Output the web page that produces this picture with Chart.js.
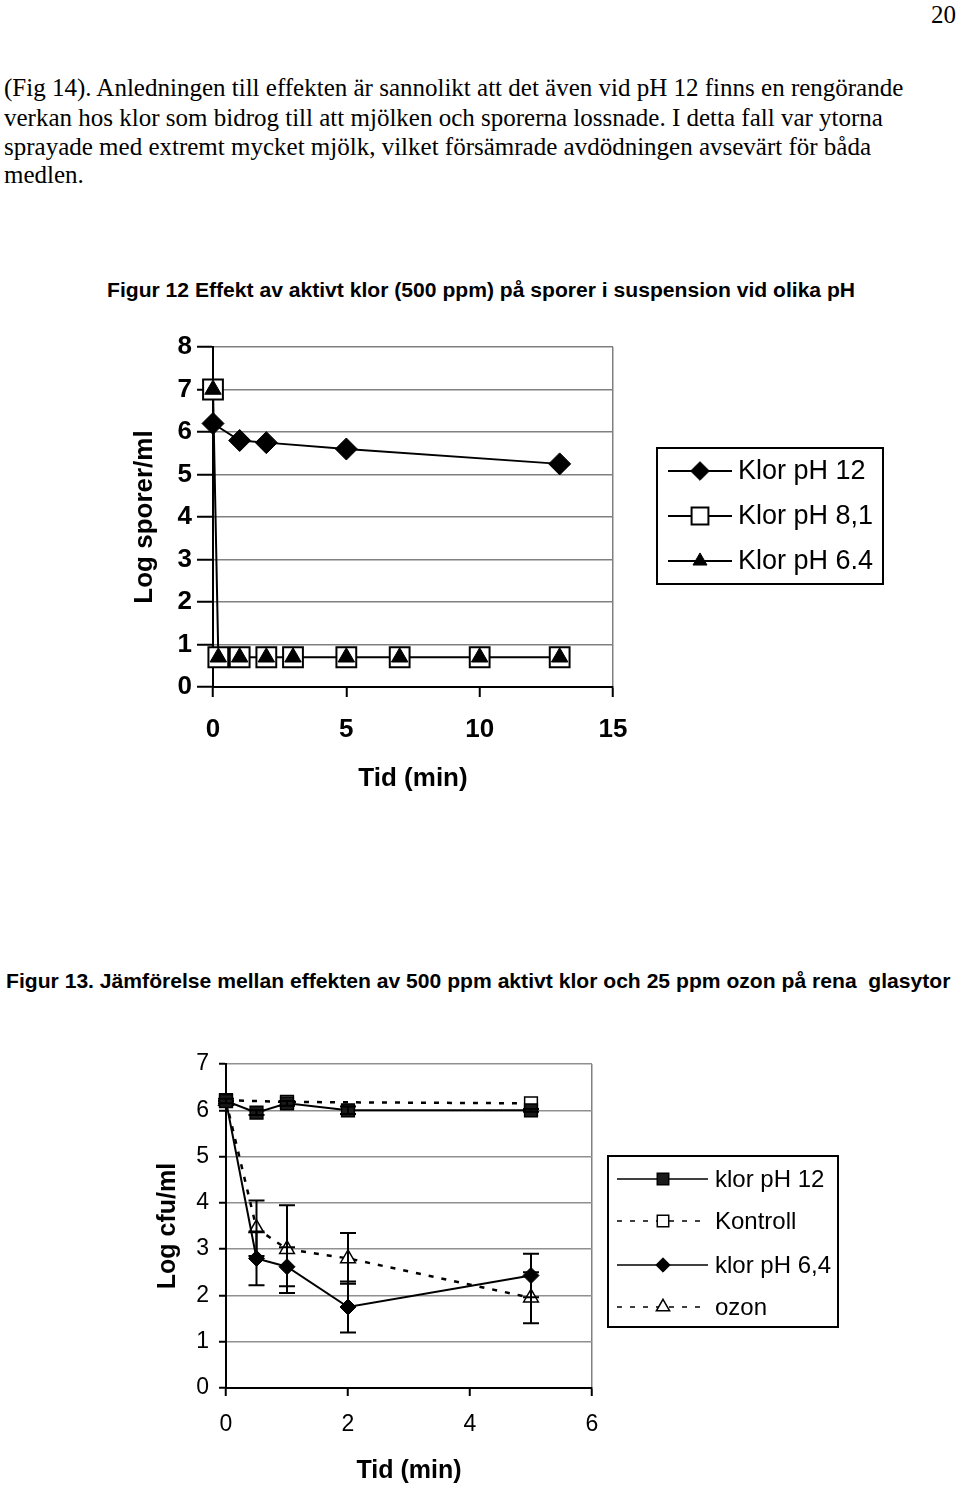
<!DOCTYPE html>
<html>
<head>
<meta charset="utf-8">
<script src="https://cdn.jsdelivr.net/npm/chart.js@4.4.0/dist/chart.umd.min.js"></script>
<style>
    body { margin: 0; background: #fff; }
    #page { position: relative; width: 960px; height: 1487px; overflow: hidden; background: #fff; }
    .txt { position: absolute; white-space: nowrap; color: #000; }
    .serif { font-family: 'Liberation Serif', 'Times New Roman', serif; font-size: 25px; line-height: 29px; }
    .cap { font-family: 'Liberation Sans', Arial, sans-serif; font-weight: bold; transform-origin: left center; }
    canvas { position: absolute; left: 0; }
</style>
</head>
<body>
<div id="page">
    <div class="txt serif" style="right: 4px; top: 0px;">20</div>
    <div class="txt serif" style="left: 4px; top: 73px;">(Fig 14). Anledningen till effekten är sannolikt att det även vid pH 12 finns en rengörande</div>
    <div class="txt serif" style="left: 4px; top: 103px;">verkan hos klor som bidrog till att mjölken och sporerna lossnade. I detta fall var ytorna</div>
    <div class="txt serif" style="left: 4px; top: 132px;">sprayade med extremt mycket mjölk, vilket försämrade avdödningen avsevärt för båda</div>
    <div class="txt serif" style="left: 4px; top: 160px;">medlen.</div>

    <div class="txt cap" id="title12" style="left: 107px; top: 278px; font-size: 20px; line-height: 24px;">Figur 12 Effekt av aktivt klor (500 ppm) på sporer i suspension vid olika pH</div>
    <canvas id="chart1" width="960" height="520" style="top: 300px;"></canvas>

    <div class="txt cap" id="title13" style="left: 6px; top: 969px; font-size: 21px; line-height: 24px;">Figur 13. Jämförelse mellan effekten av 500 ppm aktivt klor och 25 ppm ozon på rena&nbsp; glasytor</div>
    <canvas id="chart2" width="960" height="487" style="top: 1000px;"></canvas>
</div>

<script>
// Figur 12 - spores in suspension, 500 ppm chlorine
const topTimeKlor12 = [0, 1, 2, 5, 13];
const topKlor12 = [6.2, 5.8, 5.75, 5.6, 5.25];
const topTimeLow = [0, 0.2, 1, 2, 3, 5, 7, 10, 13];
const topKlor81 = [7, 0.7, 0.7, 0.7, 0.7, 0.7, 0.7, 0.7, 0.7];
const topKlor64 = [7, 0.7, 0.7, 0.7, 0.7, 0.7, 0.7, 0.7, 0.7];

// Figur 13 - chlorine vs ozone on clean glass
const botTime = [0, 0.5, 1, 2, 5];
const botKlor12 = [6.2, 5.95, 6.15, 6.0, 6.0];
const botKlor12Err = [0.05, 0.05, 0.05, 0.08, 0.03];
const botKontrollTime = [0, 1, 5];
const botKontroll = [6.22, 6.18, 6.15];
const botKlor64 = [6.2, 2.8, 2.62, 1.75, 2.43];
const botKlor64Err = [0, 0.58, 0.42, 0.55, 0.47];
const botOzon = [6.2, 3.45, 3.0, 2.8, 1.95];
const botOzonErr = [0, 0.6, 0.95, 0.55, 0.55];

const SANS = "'Liberation Sans', Arial, sans-serif";
Chart.defaults.font.family = SANS;
Chart.defaults.color = '#000';

function toPoints(xs, ys) {
    return xs.map((x, i) => ({ x: x, y: ys[i] }));
}

// Squeeze a heading into its width
function fitWidth(id, width) {
    const el = document.getElementById(id);
    el.style.transform = 'scaleX(' + (width / el.offsetWidth) + ')';
}
fitWidth('title12', 748);
fitWidth('title13', 944);

// Vertical error bars, drawn from dataset.errors
const errorBars = {
    id: 'errorBars',
    afterDatasetsDraw(chart, args, opts) {
        const ctx = chart.ctx;
        const xs = chart.scales.x;
        const ys = chart.scales.y;
        chart.data.datasets.forEach(ds => {
            if (!ds.errors) return;
            ctx.save();
            ctx.strokeStyle = '#000';
            ctx.lineWidth = 2;
            ds.data.forEach((p, i) => {
                const e = ds.errors[i];
                if (!e) return;
                const px = xs.getPixelForValue(p.x);
                const top = ys.getPixelForValue(p.y + e);
                const bot = ys.getPixelForValue(p.y - e);
                const half = opts.cap / 2;
                ctx.beginPath();
                ctx.moveTo(px, top);
                ctx.lineTo(px, bot);
                ctx.moveTo(px - half, top);
                ctx.lineTo(px + half, top);
                ctx.moveTo(px - half, bot);
                ctx.lineTo(px + half, bot);
                ctx.stroke();
            });
            ctx.restore();
        });
    }
};

// Boxed legend with line + marker samples
const boxLegend = {
    id: 'boxLegend',
    afterDraw(chart, args, opts) {
        const ctx = chart.ctx;
        ctx.save();
        ctx.strokeStyle = '#000';
        ctx.lineWidth = 2;
        ctx.strokeRect(opts.x, opts.y, opts.w, opts.h);
        opts.order.forEach((idx, row) => {
            const ds = chart.data.datasets[idx];
            const y = opts.rows[row];
            ctx.save();
            ctx.strokeStyle = ds.borderColor;
            ctx.lineWidth = opts.lineWidth;
            ctx.setLineDash(ds.borderDash || []);
            ctx.beginPath();
            ctx.moveTo(opts.x0, y);
            ctx.lineTo(opts.x1, y);
            ctx.stroke();
            ctx.restore();
            ctx.save();
            ctx.fillStyle = ds.pointBackgroundColor;
            ctx.strokeStyle = ds.pointBorderColor;
            ctx.lineWidth = ds.pointBorderWidth;
            Chart.helpers.drawPoint(ctx, {
                pointStyle: ds.pointStyle,
                radius: ds.pointRadius * opts.markScale,
                rotation: 0,
                borderWidth: ds.pointBorderWidth
            }, opts.marker, y);
            ctx.restore();
            ctx.fillStyle = '#000';
            ctx.font = opts.font;
            ctx.textBaseline = 'middle';
            ctx.textAlign = 'left';
            ctx.fillText(ds.label, opts.textX, y + 1);
        });
        ctx.restore();
    }
};

// Only the last x gridline is drawn, as the plot's right border
function rightBorder(last) {
    return ctx => (ctx.tick && ctx.tick.value === last) ? '#808080' : 'rgba(0,0,0,0)';
}

// Chart 1: Figur 12
new Chart(document.getElementById('chart1'), {
    type: 'line',
    data: {
        datasets: [
            {
                label: 'Klor pH 12',
                data: toPoints(topTimeKlor12, topKlor12),
                order: 2,
                borderColor: '#000',
                borderWidth: 2,
                pointStyle: 'rectRot',
                pointRadius: 11,
                pointBackgroundColor: '#000',
                pointBorderColor: '#000',
                pointBorderWidth: 1,
                clip: false
            },
            {
                label: 'Klor pH 8,1',
                data: toPoints(topTimeLow, topKlor81),
                order: 1,
                borderColor: '#000',
                borderWidth: 2,
                pointStyle: 'rect',
                pointRadius: 14,
                pointBackgroundColor: '#fff',
                pointBorderColor: '#000',
                pointBorderWidth: 2,
                clip: false
            },
            {
                label: 'Klor pH 6.4',
                data: toPoints(topTimeLow, topKlor64),
                order: 0,
                showLine: false,
                borderColor: '#000',
                borderWidth: 2,
                pointStyle: 'triangle',
                pointRadius: 9.5,
                pointBackgroundColor: '#000',
                pointBorderColor: '#000',
                pointBorderWidth: 1,
                clip: false
            }
        ]
    },
    options: {
        responsive: false,
        animation: false,
        events: [],
        layout: { padding: { left: 0, right: 347, top: 47, bottom: 0 } },
        plugins: {
            legend: { display: false },
            tooltip: { enabled: false },
            boxLegend: {
                x: 657, y: 148, w: 226, h: 136,
                rows: [171, 216, 261],
                order: [0, 1, 2],
                x0: 668, x1: 732, marker: 700, textX: 738,
                lineWidth: 2, markScale: 0.85,
                font: '27px ' + SANS
            },
            errorBars: { cap: 16 }
        },
        scales: {
            x: {
                type: 'linear',
                min: 0,
                max: 15,
                afterFit: s => { s.height = 133; },
                ticks: { stepSize: 5, padding: 17, font: { size: 26, weight: 'bold' } },
                grid: { color: rightBorder(15), lineWidth: 1.5, tickLength: 10, tickColor: '#000', tickWidth: 2 },
                border: { color: '#000', width: 2 },
                title: { display: true, text: 'Tid (min)', font: { size: 26, weight: 'bold' }, padding: { bottom: 26 } }
            },
            y: {
                min: 0,
                max: 8,
                afterFit: s => { s.width = 213; },
                ticks: { stepSize: 1, padding: 5, font: { size: 26, weight: 'bold' } },
                grid: { color: '#808080', lineWidth: 1.5, tickLength: 16, tickColor: '#000', tickWidth: 2 },
                border: { color: '#000', width: 2 },
                title: { display: true, text: 'Log sporer/ml', font: { size: 26, weight: 'bold' }, padding: { top: 129 } }
            }
        }
    },
    plugins: [boxLegend, errorBars]
});

// Chart 2: Figur 13
new Chart(document.getElementById('chart2'), {
    type: 'line',
    data: {
        datasets: [
            {
                label: 'klor pH 12',
                data: toPoints(botTime, botKlor12),
                errors: botKlor12Err,
                order: 0,
                borderColor: '#000',
                borderWidth: 2,
                pointStyle: 'rect',
                pointRadius: 9,
                pointBackgroundColor: '#1a1a1a',
                pointBorderColor: '#000',
                pointBorderWidth: 1.5,
                clip: false
            },
            {
                label: 'Kontroll',
                data: toPoints(botKontrollTime, botKontroll),
                order: 1,
                borderColor: '#000',
                borderWidth: 2.5,
                borderDash: [5, 8],
                pointStyle: 'rect',
                pointRadius: 9,
                pointBackgroundColor: '#fff',
                pointBorderColor: '#000',
                pointBorderWidth: 1.5,
                clip: false
            },
            {
                label: 'klor pH 6,4',
                data: toPoints(botTime, botKlor64),
                errors: botKlor64Err,
                order: 2,
                borderColor: '#000',
                borderWidth: 2,
                pointStyle: 'rectRot',
                pointRadius: 8,
                pointBackgroundColor: '#000',
                pointBorderColor: '#000',
                pointBorderWidth: 1,
                clip: false
            },
            {
                label: 'ozon',
                data: toPoints(botTime, botOzon),
                errors: botOzonErr,
                order: 3,
                borderColor: '#000',
                borderWidth: 2.5,
                borderDash: [5, 8],
                pointStyle: 'triangle',
                pointRadius: 8.5,
                pointBackgroundColor: '#fff',
                pointBorderColor: '#000',
                pointBorderWidth: 1.5,
                clip: false
            }
        ]
    },
    options: {
        responsive: false,
        animation: false,
        events: [],
        layout: { padding: { left: 0, right: 368, top: 64, bottom: 0 } },
        plugins: {
            legend: { display: false },
            tooltip: { enabled: false },
            boxLegend: {
                x: 608, y: 156, w: 230, h: 171,
                rows: [179, 221, 265, 307],
                order: [0, 1, 2, 3],
                x0: 617, x1: 708, marker: 663, textX: 715,
                lineWidth: 1.5, markScale: 0.9,
                font: '24px ' + SANS
            },
            errorBars: { cap: 16 }
        },
        scales: {
            x: {
                type: 'linear',
                min: 0,
                max: 6,
                afterFit: s => { s.height = 99; },
                ticks: { stepSize: 2, padding: 15, font: { size: 23 } },
                grid: { color: rightBorder(6), lineWidth: 1.5, tickLength: 8, tickColor: '#000', tickWidth: 2 },
                border: { color: '#000', width: 2 },
                title: { display: true, text: 'Tid (min)', font: { size: 25, weight: 'bold' }, padding: { bottom: 1 } }
            },
            y: {
                min: 0,
                max: 7,
                afterFit: s => { s.width = 226; },
                ticks: { stepSize: 1, padding: 10, font: { size: 23 } },
                grid: { color: '#909090', lineWidth: 1.5, tickLength: 7, tickColor: '#000', tickWidth: 2 },
                border: { color: '#000', width: 2 },
                title: { display: true, text: 'Log cfu/ml', font: { size: 25, weight: 'bold' }, padding: { top: 153 } }
            }
        }
    },
    plugins: [boxLegend, errorBars]
});
</script>
</body>
</html>
